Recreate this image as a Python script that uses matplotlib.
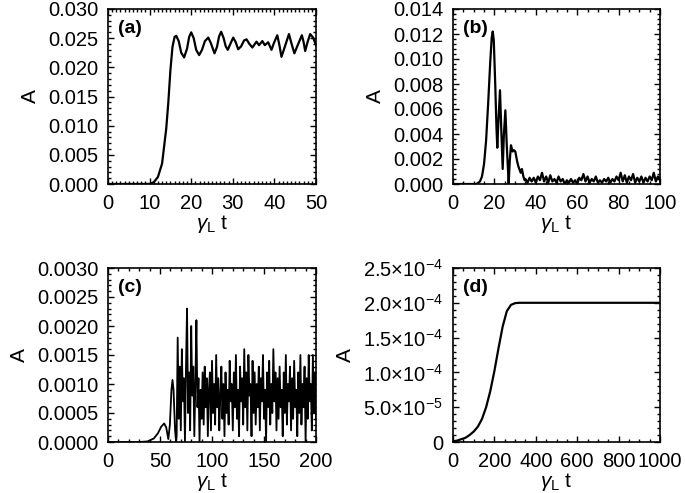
import numpy as np
import matplotlib
matplotlib.use("Agg")
import matplotlib.pyplot as plt
from matplotlib.ticker import MultipleLocator, FuncFormatter, FormatStrFormatter

plt.rcParams['font.family'] = ['Liberation Sans', 'DejaVu Sans']
plt.rcParams['mathtext.fontset'] = 'custom'
plt.rcParams['mathtext.rm'] = 'Liberation Sans'
plt.rcParams['mathtext.it'] = 'Liberation Sans:italic'
plt.rcParams['mathtext.bf'] = 'Liberation Sans:bold'

# ---------------- data ----------------
# (a)
t_a = [0, 8, 10, 11, 12, 13, 14, 14.5, 15, 15.5, 16, 16.4, 17.0, 17.6, 18.3, 19.0, 19.5, 20.0,
       20.6, 21.2, 21.9, 22.6, 23.3, 24.1, 24.7, 25.6, 26.2, 26.7, 27.2, 27.8, 28.3, 28.8,
       29.4, 30.1, 30.7, 31.3, 32.0, 32.7, 33.3, 34.0, 34.7, 35.2, 35.7, 36.3, 37.1, 37.7,
       38.5, 39.3, 39.9, 40.7, 41.2, 41.7, 42.4, 43.5, 44.1, 44.8, 45.6, 46.6, 47.0, 47.4,
       48.0, 48.6, 49.3, 50.0]
A_a = [0, 0, 0.00002, 0.0003, 0.0012, 0.0035, 0.0095, 0.0140, 0.0195, 0.0235, 0.0252, 0.0254,
       0.0245, 0.0225, 0.0217, 0.0232, 0.0252, 0.0260, 0.0250, 0.0230, 0.0221, 0.0230, 0.0245,
       0.0251, 0.0242, 0.0224, 0.0235, 0.0253, 0.0261, 0.0250, 0.0236, 0.0230, 0.0240, 0.0251,
       0.0243, 0.0231, 0.0236, 0.0246, 0.0248, 0.0240, 0.0234, 0.0239, 0.0244, 0.0238, 0.0245,
       0.0238, 0.0243, 0.0230, 0.0242, 0.0255, 0.0238, 0.0218, 0.0233, 0.0257, 0.0241, 0.0224,
       0.0238, 0.0255, 0.0244, 0.0228, 0.0244, 0.0257, 0.0251, 0.0238]

# (b)
t_b_early = [0, 10, 11.4, 13, 14, 15, 16, 17, 18, 18.7, 19.2, 19.7, 20.4, 21.0, 21.4, 22.0, 22.7,
             23.3, 24.0, 24.6, 25.3, 26.0, 26.9, 27.4, 28.0, 28.8, 29.5, 30.1, 31.0, 31.6, 32.7,
             33.3, 34.0, 34.6]
A_b_early = [0, 0, 0, 0.0002, 0.0006, 0.0016, 0.0035, 0.0065, 0.0098, 0.0117, 0.0122, 0.0115,
             0.0080, 0.0045, 0.0029, 0.0052, 0.0075, 0.0045, 0.0012, 0.0040, 0.0059, 0.0030, 0.0,
             0.0018, 0.0031, 0.0026, 0.0027, 0.0026, 0.0018, 0.0014, 0.0009, 0.0012, 0.0006, 0.0003]
t_b_late = list(range(35, 101))
A_b_late = [0.0004, 0.0001, 0.0005, 0.0002, 0.0005, 0.0001, 0.0006, 0.0003, 0.0009, 0.0002,
            0.0006, 0.0001, 0.0007, 0.0002, 0.0004, 0.0001, 0.0006, 0.0002, 0.0004, 0.0000,
            0.0003, 0.0001, 0.0004, 0.0001, 0.0003, 0.0000, 0.0005, 0.0003, 0.0008, 0.0002,
            0.0006, 0.0001, 0.0004, 0.0002, 0.0006, 0.0001, 0.0003, 0.0001, 0.0004, 0.0002,
            0.0005, 0.0001, 0.0004, 0.0002, 0.0006, 0.0003, 0.0009, 0.0002, 0.0007, 0.0001,
            0.0006, 0.0003, 0.0008, 0.0001, 0.0005, 0.0002, 0.0006, 0.0001, 0.0005, 0.0002,
            0.0006, 0.0003, 0.0009, 0.0002, 0.0006, 0.0003]

# (c)
t_c_early = [0, 30, 38, 44, 48, 51, 54, 56, 58, 59.5, 61, 62, 63, 64.5, 65.5]
A_c_early = [0, 0, 0.00001, 0.00006, 0.00015, 0.00026, 0.00032, 0.00025, 0.00005, 0.0003,
             0.0009, 0.00107, 0.0009, 0.0002, 0.0]
t_c_late = list(range(66, 201))
A_c_late = [0.0001, 0.0018, 0.0004, 0.0013, 0.0002, 0.0016, 0.0007, 0.0011, 0.0000, 0.0013,
            0.0023, 0.0005, 0.0012, 0.0002, 0.0020, 0.0008, 0.0013, 0.0001, 0.0010, 0.0021,
            0.0006, 0.0011, 0.0000, 0.0009, 0.0004, 0.0012, 0.0003, 0.0013, 0.0006, 0.0011,
            0.0001, 0.0009, 0.0012, 0.0002, 0.0014, 0.0005, 0.0010, 0.0003, 0.0015, 0.0006,
            0.0011, 0.0002, 0.0008, 0.0013, 0.0004, 0.0010, 0.0001, 0.0012, 0.0005, 0.0009,
            0.0003, 0.0014, 0.0007, 0.0010, 0.0002, 0.0012, 0.0006, 0.0015, 0.0004, 0.0009,
            0.0001, 0.0013, 0.0007, 0.0011, 0.0003, 0.0016, 0.0006, 0.0012, 0.0002, 0.0015,
            0.0008, 0.0010, 0.0001, 0.0014, 0.0005, 0.0012, 0.0003, 0.0010, 0.0006, 0.0013,
            0.0002, 0.0011, 0.0007, 0.0015, 0.0004, 0.0009, 0.0000, 0.0012, 0.0006, 0.0014,
            0.0003, 0.0010, 0.0005, 0.0016, 0.0007, 0.0012, 0.0002, 0.0011, 0.0004, 0.0013,
            0.0006, 0.0009, 0.0001, 0.0012, 0.0005, 0.0015, 0.0003, 0.0010, 0.0007, 0.0013,
            0.0002, 0.0011, 0.0004, 0.0014, 0.0006, 0.0009, 0.0001, 0.0012, 0.0005, 0.0015,
            0.0003, 0.0010, 0.0006, 0.0013, 0.0000, 0.0011, 0.0004, 0.0015, 0.0007, 0.0010,
            0.0002, 0.0015, 0.0005, 0.0012, 0.0004]

# (d)
t_d = [0, 20, 40, 60, 80, 100, 120, 140, 160, 180, 200, 220, 240, 260, 280, 300, 320, 400, 1000]
A_d = [1e-6, 2e-6, 4e-6, 6e-6, 1.0e-5, 1.5e-5, 2.2e-5, 3.3e-5, 5.0e-5, 7.3e-5, 1.02e-4,
       1.35e-4, 1.66e-4, 1.88e-4, 1.97e-4, 1.995e-4, 2.0e-4, 2.0e-4, 2.0e-4]

panel_labels = ['(a)', '(b)', '(c)', '(d)']
xlabel = r'$\gamma_{\rm L}$ t'
ylabel = 'A'

# ---------------- figure ----------------
fig = plt.figure(figsize=(6.85, 4.93), dpi=100)
W, H = 685, 493
def rect(l, r, t, b):
    return [l / W, 1 - b / H, (r - l) / W, (b - t) / H]

axs = [fig.add_axes(rect(108, 316, 9, 184)),
       fig.add_axes(rect(453, 660, 9, 184)),
       fig.add_axes(rect(108, 316, 268, 442)),
       fig.add_axes(rect(453, 660, 268, 442))]

lw = 1.6
axs[0].plot(t_a, A_a, color='black', lw=lw)
axs[1].plot(t_b_early + t_b_late, A_b_early + A_b_late, color='black', lw=lw)
axs[2].plot(t_c_early + t_c_late, A_c_early + A_c_late, color='black', lw=1.3)
axs[3].plot(t_d, A_d, color='black', lw=lw)

axs[0].set_xlim(0, 50); axs[0].set_ylim(0, 0.030)
axs[0].xaxis.set_major_locator(MultipleLocator(10)); axs[0].xaxis.set_minor_locator(MultipleLocator(1))
axs[0].yaxis.set_major_locator(MultipleLocator(0.005)); axs[0].yaxis.set_minor_locator(MultipleLocator(0.001))
axs[0].yaxis.set_major_formatter(FormatStrFormatter('%.3f'))

axs[1].set_xlim(0, 100); axs[1].set_ylim(0, 0.014)
axs[1].xaxis.set_major_locator(MultipleLocator(20)); axs[1].xaxis.set_minor_locator(MultipleLocator(5))
axs[1].yaxis.set_major_locator(MultipleLocator(0.002)); axs[1].yaxis.set_minor_locator(MultipleLocator(0.0004))
axs[1].yaxis.set_major_formatter(FormatStrFormatter('%.3f'))

axs[2].set_xlim(0, 200); axs[2].set_ylim(0, 0.003)
axs[2].xaxis.set_major_locator(MultipleLocator(50)); axs[2].xaxis.set_minor_locator(MultipleLocator(10))
axs[2].yaxis.set_major_locator(MultipleLocator(0.0005)); axs[2].yaxis.set_minor_locator(MultipleLocator(0.0001))
axs[2].yaxis.set_major_formatter(FormatStrFormatter('%.4f'))

def sci_fmt(v, pos):
    if abs(v) < 1e-12:
        return '0'
    m, e = ('%.1e' % v).split('e')
    return r'$\mathdefault{%s{\times}10^{%d}}$' % (m, int(e))

axs[3].set_xlim(0, 1000); axs[3].set_ylim(0, 2.5e-4)
axs[3].xaxis.set_major_locator(MultipleLocator(200)); axs[3].xaxis.set_minor_locator(MultipleLocator(50))
axs[3].yaxis.set_major_locator(MultipleLocator(5e-5)); axs[3].yaxis.set_minor_locator(MultipleLocator(1e-5))
axs[3].yaxis.set_major_formatter(FuncFormatter(sci_fmt))

for ax, lab in zip(axs, panel_labels):
    ax.tick_params(which='both', direction='in', top=True, right=True, labelsize=14.5, width=1.0)
    ax.tick_params(which='major', length=4.5)
    ax.tick_params(which='minor', length=2.2)
    ax.tick_params(axis='x', which='major', pad=7)
    ax.tick_params(axis='y', which='major', pad=7)
    for s in ax.spines.values():
        s.set_linewidth(1.2)
    ax.set_xlabel(xlabel, fontsize=15, labelpad=0)
    ax.set_ylabel(ylabel, fontsize=15, labelpad=6)
    ax.text(0.05, 0.935, lab, transform=ax.transAxes, ha='left', va='top',
            fontsize=14, fontweight='bold')

fig.savefig('out.png', dpi=100)
